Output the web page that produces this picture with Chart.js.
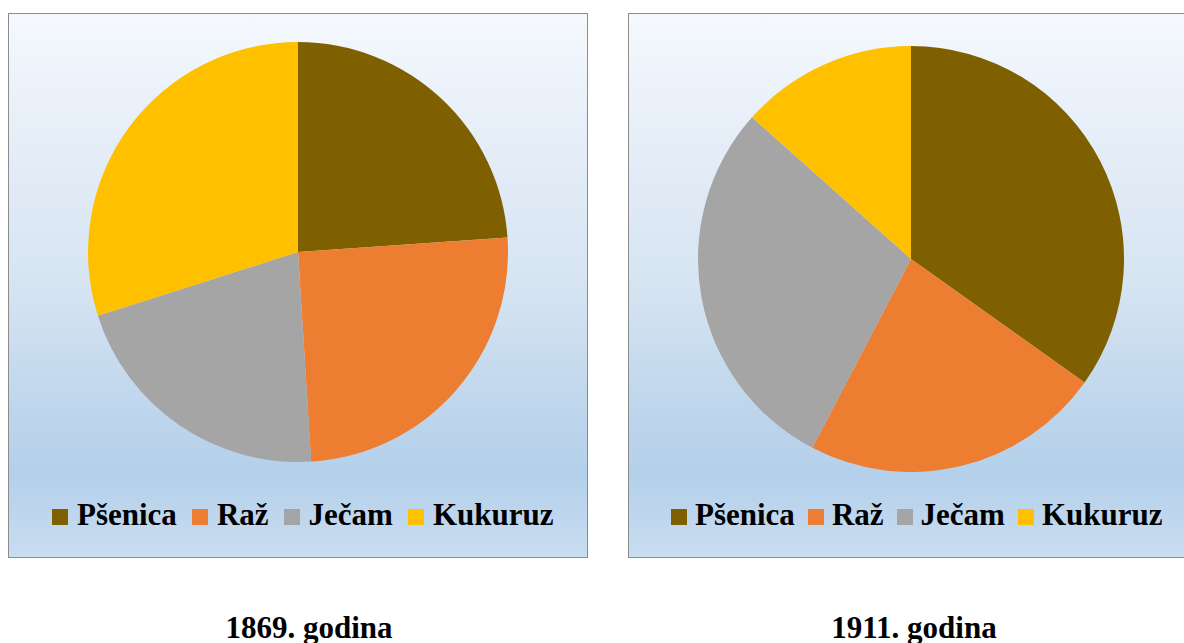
<!DOCTYPE html>
<html>
<head>
<meta charset="utf-8">
<script src="https://cdn.jsdelivr.net/npm/chart.js@4"></script>
<style>
    html, body {
        margin: 0;
        padding: 0;
        background: #ffffff;
        overflow: hidden;
        width: 1184px;
        height: 643px;
    }
    .panel {
        position: absolute;
        top: 13px;
        width: 580px;
        height: 545px;
        box-sizing: border-box;
        border: 1px solid #8c8c8c;
        background: linear-gradient(180deg, #f5f9fd 0%, #e6eef8 22%, #d6e4f2 50%, #bfd6ec 72%, #b4d0ea 85%, #c9ddf1 100%);
    }
    .pie {
        position: absolute;
    }
    .legend {
        position: absolute;
        top: 499px;
        height: 31px;
        display: flex;
        align-items: center;
        font-family: "Liberation Serif", "Times New Roman", serif;
        font-weight: bold;
        font-size: 31px;
        line-height: 31px;
        color: #000;
        white-space: nowrap;
    }
    .legend .item {
        display: flex;
        align-items: center;
        margin-right: 15px;
    }
    .legend .box {
        width: 16px;
        height: 16px;
        margin-right: 9px;
        position: relative;
        top: 2px;
    }
    .legend.tight .item { margin-right: 13px; }
    .legend.tight .box { margin-right: 8px; }
    .caption {
        position: absolute;
        top: 612px;
        width: 300px;
        text-align: center;
        font-family: "Liberation Serif", "Times New Roman", serif;
        font-weight: bold;
        font-size: 31px;
        line-height: 31px;
        color: #000;
    }
</style>
</head>
<body>
<div class="panel" style="left: 8px;"></div>
<div class="panel" style="left: 628px;"></div>

<canvas id="pie1869" class="pie" width="420" height="420" style="left: 88px; top: 42px;"></canvas>
<canvas id="pie1911" class="pie" width="426" height="426" style="left: 698px; top: 46px;"></canvas>

<div id="legend1869" class="legend" style="left: 52px;"></div>
<div id="legend1911" class="legend tight" style="left: 671px;"></div>

<div class="caption" style="left: 159px;">1869. godina</div>
<div class="caption" style="left: 764px;">1911. godina</div>

<script>
// Data
const crops = ['Pšenica', 'Raž', 'Ječam', 'Kukuruz'];
const shares1869 = [23.9, 25.1, 21.1, 29.9];
const shares1911 = [34.8, 22.8, 28.9, 13.4];
const cropColors = ['#7F6000', '#ED7D31', '#A5A5A5', '#FFC000'];

// Legend drawn as html, built from the chart's own labels
const htmlLegendPlugin = {
    id: 'htmlLegend',
    afterUpdate(chart, args, options) {
        const container = document.getElementById(options.containerID);
        container.innerHTML = '';
        const items = chart.options.plugins.legend.labels.generateLabels(chart);
        items.forEach(item => {
            const el = document.createElement('span');
            el.className = 'item';
            const box = document.createElement('span');
            box.className = 'box';
            box.style.background = item.fillStyle;
            const text = document.createElement('span');
            text.textContent = item.text;
            el.appendChild(box);
            el.appendChild(text);
            container.appendChild(el);
        });
    }
};

const createPieChart = (canvasId, legendId, values) => {
    const ctx = document.getElementById(canvasId);
    return new Chart(ctx, {
        type: 'pie',
        data: {
            labels: crops,
            datasets: [{
                data: values,
                backgroundColor: cropColors,
                borderWidth: 0
            }]
        },
        options: {
            responsive: false,
            animation: false,
            layout: { padding: 0 },
            plugins: {
                legend: { display: false },
                tooltip: { enabled: false },
                htmlLegend: { containerID: legendId }
            }
        },
        plugins: [htmlLegendPlugin]
    });
};

createPieChart('pie1869', 'legend1869', shares1869);
createPieChart('pie1911', 'legend1911', shares1911);
</script>
</body>
</html>
